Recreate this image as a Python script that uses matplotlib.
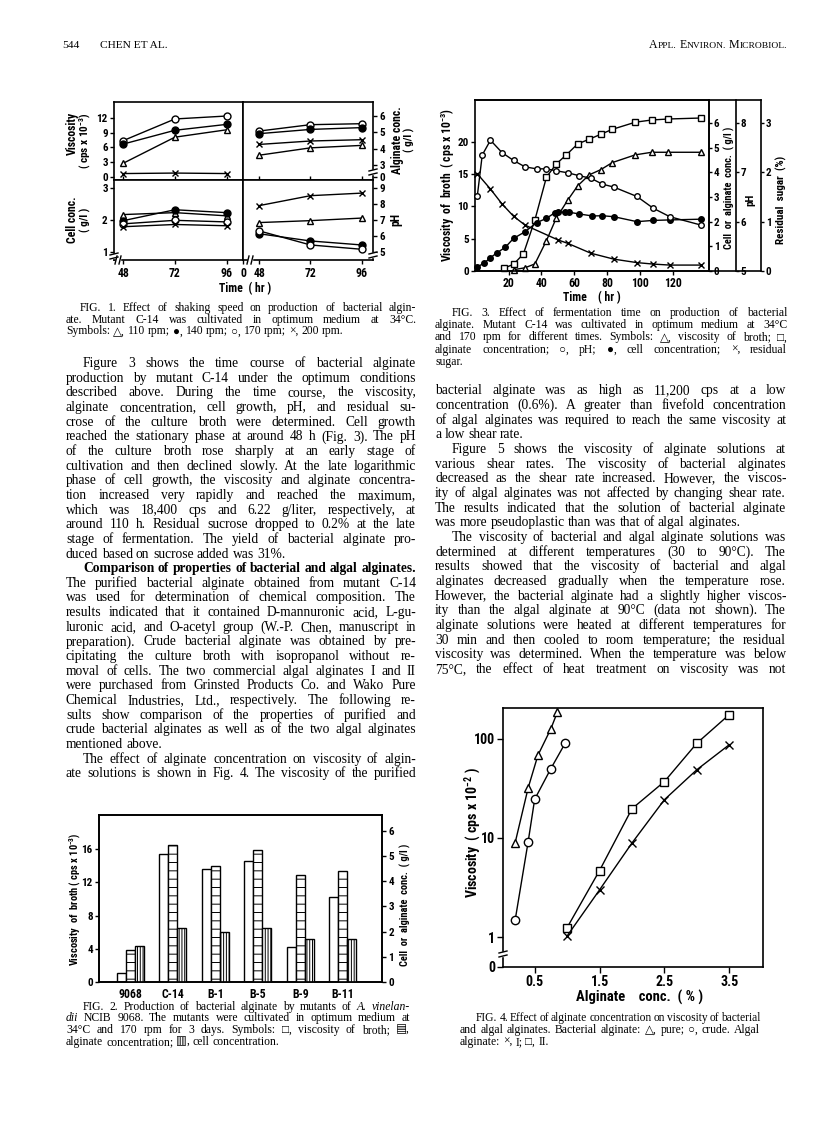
import numpy as np
import matplotlib
matplotlib.use('Agg')
import matplotlib.pyplot as plt
from matplotlib import font_manager
from matplotlib.font_manager import FontProperties
from matplotlib.lines import Line2D
from matplotlib.patches import Rectangle
from matplotlib.ticker import NullLocator

W, H = 816, 1126

# ---------------- data ----------------
# Fig. 1, effect of shaking speed (110/140/170/200 rpm)
f1_hours = [48, 72, 96]
f1_visc_110 = [2.8, 8.1, 9.6]
f1_visc_140 = [6.7, 9.5, 10.7]
f1_visc_170 = [7.4, 11.8, 12.4]
f1_visc_200 = [0.7, 0.8, 0.7]
f1_alg_110 = [3.6, 4.05, 4.2]
f1_alg_140 = [4.92, 5.18, 5.29]
f1_alg_170 = [5.08, 5.47, 5.53]
f1_alg_200 = [4.26, 4.47, 4.55]
f1_cell_110 = [2.16, 2.22, 2.12]
f1_cell_140 = [1.97, 2.31, 2.22]
f1_cell_170 = [1.87, 1.98, 1.93]
f1_cell_200 = [1.78, 1.85, 1.81]
f1_ph_110 = [6.82, 6.94, 7.1]
f1_ph_140 = [6.12, 5.67, 5.42]
f1_ph_170 = [6.3, 5.42, 5.15]
f1_ph_200 = [7.88, 8.5, 8.66]

# Fig. 2, mutants
f2_strains = ['9068', 'C-14', 'B-1', 'B-5', 'B-9', 'B-11']
f2_visc = [1.1, 15.4, 13.6, 14.6, 4.2, 10.2]
f2_alginate = [1.25, 5.45, 4.6, 5.25, 4.25, 4.4]
f2_cell = [1.42, 2.15, 2.0, 2.15, 1.7, 1.7]

# Fig. 3, fermentation time course
f3_visc_t = [23, 30, 36, 43, 49, 56, 62, 69, 76, 83, 97, 107, 117, 137]
f3_visc = [0.2, 0.5, 1.1, 4.7, 8.2, 11.0, 13.2, 14.9, 15.7, 16.8, 18.0, 18.4, 18.4, 18.4]
f3_alg_t = [17, 23, 29, 36, 43, 49, 55, 62, 69, 76, 83, 97, 107, 117, 137]
f3_alg = [0.11, 0.27, 0.69, 2.07, 3.8, 4.34, 4.7, 5.15, 5.34, 5.54, 5.74, 6.03, 6.12, 6.16, 6.2]
f3_ph_t = [1, 4, 9, 16, 23, 30, 37, 43, 49, 56, 63, 70, 77, 84, 98, 108, 118, 137]
f3_ph = [6.52, 7.35, 7.65, 7.4, 7.24, 7.11, 7.07, 7.07, 7.03, 6.99, 6.93, 6.88, 6.76, 6.70,
         6.51, 6.27, 6.1, 5.93]
f3_cell_t = [1, 5, 9, 13, 18, 23, 30, 37, 43, 48, 50, 54, 57, 63, 71, 77, 84, 98, 108, 118, 137]
f3_cell = [0.17, 0.31, 0.54, 0.74, 0.96, 1.32, 1.59, 1.96, 2.13, 2.36, 2.4, 2.38, 2.38, 2.31,
           2.23, 2.24, 2.2, 2.0, 2.05, 2.07, 2.1]
f3_sugar_t = [1, 9, 16, 23, 30, 50, 56, 70, 84, 98, 108, 118, 137]
f3_sugar = [1.97, 1.66, 1.36, 1.11, 0.93, 0.63, 0.56, 0.36, 0.24, 0.17, 0.14, 0.12, 0.12]

# Fig. 4, viscosity vs concentration
f4_pure_x = [0.2, 0.4, 0.55, 0.75, 0.85]
f4_pure_y = [9, 32, 68, 126, 185]
f4_crude_x = [0.2, 0.4, 0.5, 0.75, 0.97]
f4_crude_y = [1.5, 9.2, 24.5, 50, 90]
f4_algal_x = [1.0, 1.5, 2.0, 2.5, 3.0, 3.5]
f4_algal_1 = [1.03, 3.0, 8.9, 24.3, 48.7, 87]
f4_algal_2 = [1.25, 4.7, 19.7, 37, 90, 175]

# ---------------- page text ----------------
# '>' = paragraph indent, '|' = last line (not justified), *bold*, _italic_
left_body = [
    '>Figure 3 shows the time course of bacterial alginate',
    'production by mutant C-14 under the optimum conditions',
    'described above. During the time course, the viscosity,',
    'alginate concentration, cell growth, pH, and residual su-',
    'crose of the culture broth were determined. Cell growth',
    'reached the stationary phase at around 48 h (Fig. 3). The pH',
    'of the culture broth rose sharply at an early stage of',
    'cultivation and then declined slowly. At the late logarithmic',
    'phase of cell growth, the viscosity and alginate concentra-',
    'tion increased very rapidly and reached the maximum,',
    'which was 18,400 cps and 6.22 g/liter, respectively, at',
    'around 110 h. Residual sucrose dropped to 0.2% at the late',
    'stage of fermentation. The yield of bacterial alginate pro-',
    'duced based on sucrose added was 31%.|',
    '>*Comparison of properties of bacterial and algal alginates.*',
    'The purified bacterial alginate obtained from mutant C-14',
    'was used for determination of chemical composition. The',
    'results indicated that it contained D-mannuronic acid, L-gu-',
    'luronic acid, and O-acetyl group (W.-P. Chen, manuscript in',
    'preparation). Crude bacterial alginate was obtained by pre-',
    'cipitating the culture broth with isopropanol without re-',
    'moval of cells. The two commercial algal alginates I and II',
    'were purchased from Grinsted Products Co. and Wako Pure',
    'Chemical Industries, Ltd., respectively. The following re-',
    'sults show comparison of the properties of purified and',
    'crude bacterial alginates as well as of the two algal alginates',
    'mentioned above.|',
    '>The effect of alginate concentration on viscosity of algin-',
    'ate solutions is shown in Fig. 4. The viscosity of the purified',
]
right_body = [
    'bacterial alginate was as high as 11,200 cps at a low',
    'concentration (0.6%). A greater than fivefold concentration',
    'of algal alginates was required to reach the same viscosity at',
    'a low shear rate.|',
    '>Figure 5 shows the viscosity of alginate solutions at',
    'various shear rates. The viscosity of bacterial alginates',
    'decreased as the shear rate increased. However, the viscos-',
    'ity of algal alginates was not affected by changing shear rate.',
    'The results indicated that the solution of bacterial alginate',
    'was more pseudoplastic than was that of algal alginates.|',
    '>The viscosity of bacterial and algal alginate solutions was',
    'determined at different temperatures (30 to 90°C). The',
    'results showed that the viscosity of bacterial and algal',
    'alginates decreased gradually when the temperature rose.',
    'However, the bacterial alginate had a slightly higher viscos-',
    'ity than the algal alginate at 90°C (data not shown). The',
    'alginate solutions were heated at different temperatures for',
    '30 min and then cooled to room temperature; the residual',
    'viscosity was determined. When the temperature was below',
    '75°C, the effect of heat treatment on viscosity was not',
]
cap1 = [
    '>FIG. 1. Effect of shaking speed on production of bacterial algin-',
    'ate. Mutant C-14 was cultivated in optimum medium at 34°C.',
    'Symbols: △, 110 rpm; ●, 140 rpm; ○, 170 rpm; ×, 200 rpm.|',
]
cap2 = [
    '>FIG. 2. Production of bacterial alginate by mutants of _A. vinelan-_',
    '_dii_ NCIB 9068. The mutants were cultivated in optimum medium at',
    '34°C and 170 rpm for 3 days. Symbols: □, viscosity of broth; ▤,',
    'alginate concentration; ▥, cell concentration.|',
]
cap3 = [
    '>FIG. 3. Effect of fermentation time on production of bacterial',
    'alginate. Mutant C-14 was cultivated in optimum medium at 34°C',
    'and 170 rpm for different times. Symbols: △, viscosity of broth; □,',
    'alginate concentration; ○, pH; ●, cell concentration; ×, residual',
    'sugar.|',
]
cap4 = [
    '>FIG. 4. Effect of alginate concentration on viscosity of bacterial',
    'and algal alginates. Bacterial alginate: △, pure; ○, crude. Algal',
    'alginate: ×, I; □, II.|',
]

# ---------------- fonts / style ----------------
installed = {f.name for f in font_manager.fontManager.ttflist}
SANS = 'Liberation Sans'
for cand in ['Liberation Sans Narrow', 'DejaVu Sans Condensed', 'Roboto Condensed',
             'Open Sans Condensed', 'Arial Narrow']:
    if cand in installed:
        SANS = cand
        break
NARROW = SANS != 'Liberation Sans'
SERIF = ['Liberation Serif', 'DejaVu Serif', 'DejaVu Sans']

plt.rcParams.update({
    'font.family': [SANS, 'DejaVu Sans'],
    'font.weight': 'bold',
    'mathtext.fontset': 'custom',
    'mathtext.rm': SANS + ':bold',
    'mathtext.it': SANS + ':bold',
    'mathtext.bf': SANS + ':bold',
    'axes.linewidth': 1.2,
    'xtick.major.width': 1.0,
    'ytick.major.width': 1.0,
    'xtick.major.size': 3,
    'ytick.major.size': 3,
    'xtick.major.pad': 2,
    'ytick.major.pad': 1.5,
    'hatch.linewidth': 0.7,
})
# tick font sizes, a bit smaller when no narrow face is there
TS = 8 if NARROW else 7.5
TS4 = 10 if NARROW else 9

fig = plt.figure(figsize=(W / 100, H / 100), dpi=100)
renderer = fig.canvas.get_renderer()


def box(x0, y0, x1, y1, size=TS):
    ax = fig.add_axes([x0 / W, 1 - y1 / H, (x1 - x0) / W, (y1 - y0) / H])
    ax.tick_params(labelsize=size)
    return ax


def ftext(x, y, s, **kw):
    kw.setdefault('ha', 'center')
    kw.setdefault('va', 'center')
    return fig.text(x / W, 1 - y / H, s, **kw)


MARK = {'tri': ('^', 'white'), 'dot': ('o', 'k'), 'cir': ('o', 'white'),
        'x': ('x', 'k'), 'sq': ('s', 'white')}


def curve(ax, x, y, kind, ms=5):
    m, fc = MARK[kind]
    ax.plot(x, y, color='k', lw=1.0, marker=m, ms=ms, mfc=fc, mec='k',
            mew=1.0, zorder=3, clip_on=False)


def brk(x, y, along='v'):
    # small "=" break sign across a spine (figure pixels)
    if along == 'v':
        fig.add_artist(Rectangle(((x - 3) / W, 1 - (y + 2) / H), 6 / W, 4 / H,
                                 transform=fig.transFigure, color='white', zorder=5))
        for dy in (-2, 2):
            fig.add_artist(Line2D([(x - 4) / W, (x + 4) / W],
                                  [1 - (y + dy + 1) / H, 1 - (y + dy - 1) / H],
                                  transform=fig.transFigure, color='k', lw=1.0, zorder=6))
    else:
        fig.add_artist(Rectangle(((x - 2) / W, 1 - (y + 3) / H), 4 / W, 6 / H,
                                 transform=fig.transFigure, color='white', zorder=5))
        for dx in (-2, 2):
            fig.add_artist(Line2D([(x + dx - 1) / W, (x + dx + 1) / W],
                                  [1 - (y + 4) / H, 1 - (y - 4) / H],
                                  transform=fig.transFigure, color='k', lw=1.0, zorder=6))


# ================= Fig. 1 =================
a1 = box(114, 102, 243, 180)
b1 = box(243, 102, 373, 180)
c1 = box(114, 180, 243, 260)
d1 = box(243, 180, 373, 260)
for ax in (a1, c1):
    ax.set_xlim(43.7, 103.6)
for ax in (b1, d1):
    ax.set_xlim(40.4, 101.3)
    ax.yaxis.tick_right()
a1.set_ylim(-0.61, 15.25)
a1.set_yticks([0, 3, 6, 9, 12])
b1.set_ylim(2.08, 6.86)
b1.set_yticks([2.265, 3, 4, 5, 6], ['0', '3', '4', '5', '6'])
c1.set_ylim(0.74, 3.24)
c1.set_yticks([1, 2, 3])
d1.set_ylim(4.48, 9.48)
d1.set_yticks([5, 6, 7, 8, 9])
for ax in (a1, b1):
    ax.set_xticks(f1_hours)
    ax.tick_params(axis='x', direction='in', labelbottom=False, length=3)
c1.set_xticks(f1_hours)
d1.set_xticks([40.4] + f1_hours, ['0', '48', '72', '96'])
for ax in (c1, d1):
    ax.tick_params(axis='x', labelsize=TS + 0.5)

curve(a1, f1_hours, f1_visc_170, 'cir')
curve(a1, f1_hours, f1_visc_140, 'dot')
curve(a1, f1_hours, f1_visc_110, 'tri')
curve(a1, f1_hours, f1_visc_200, 'x')
curve(b1, f1_hours, f1_alg_170, 'cir')
curve(b1, f1_hours, f1_alg_140, 'dot')
curve(b1, f1_hours, f1_alg_200, 'x')
curve(b1, f1_hours, f1_alg_110, 'tri')
curve(c1, f1_hours, f1_cell_110, 'tri')
curve(c1, f1_hours, f1_cell_140, 'dot')
curve(c1, f1_hours, f1_cell_170, 'cir')
curve(c1, f1_hours, f1_cell_200, 'x')
curve(d1, f1_hours, f1_ph_200, 'x')
curve(d1, f1_hours, f1_ph_110, 'tri')
curve(d1, f1_hours, f1_ph_140, 'dot')
curve(d1, f1_hours, f1_ph_170, 'cir')

ftext(72, 133, 'Viscosity', rotation=90, fontsize=8.5)
ftext(85, 141, '( cps x 10$^{-3}$)', rotation=90, fontsize=8)
ftext(72, 220, 'Cell conc.', rotation=90, fontsize=8.5)
ftext(85, 220, '( g/l )', rotation=90, fontsize=8)
ftext(397, 140, 'Alginate conc.', rotation=90, fontsize=8.5)
ftext(409, 140, '( g/l )', rotation=90, fontsize=8)
ftext(396, 220, 'pH', rotation=90, fontsize=8.5)
ftext(245, 289, 'Time  ( hr )', fontsize=8.5)
brk(373, 172, 'v')
brk(373, 255, 'v')
brk(114, 256, 'v')
brk(118, 260, 'h')
brk(250, 260, 'h')

# ================= Fig. 3 =================
a3 = box(475, 100, 709, 271)
a3.set_xlim(-0.4, 141.8)
a3.set_ylim(0, 26.5)
a3.set_xticks([20, 40, 60, 80, 100, 120])
a3.set_yticks([0, 5, 10, 15, 20])
a3.tick_params(axis='x', labelsize=TS + 0.5, pad=1.5)
r3 = a3.twinx()
r3.set_ylim(0, 6.93)
r3.set_yticks(range(7))
p3 = a3.twinx()
p3.spines['right'].set_position(('axes', (736 - 475) / 234))
p3.set_ylim(5, 8.465)
p3.set_yticks([5, 6, 7, 8])
s3 = a3.twinx()
s3.spines['right'].set_position(('axes', (761 - 475) / 234))
s3.set_ylim(0, 3.465)
s3.set_yticks([0, 1, 2, 3])
for ax in (r3, p3, s3):
    ax.tick_params(labelsize=TS, length=2.5, pad=1)
    for side in ('top', 'bottom', 'left'):
        ax.spines[side].set_visible(False)
frame3 = box(475, 100, 761, 271)
frame3.set_facecolor('none')
frame3.set_xticks([])
frame3.set_yticks([])
frame3.spines['left'].set_visible(False)
frame3.spines['right'].set_visible(False)

curve(a3, f3_visc_t, f3_visc, 'tri', ms=4)
curve(r3, f3_alg_t, f3_alg, 'sq', ms=4)
curve(r3, f3_cell_t, f3_cell, 'dot', ms=4)
curve(p3, f3_ph_t, f3_ph, 'cir', ms=4)
curve(s3, f3_sugar_t, f3_sugar, 'x', ms=4)

ftext(448, 185, 'Viscosity  of  broth  ( cps x 10$^{-3}$)', rotation=90, fontsize=8.5)
ftext(729, 188, 'Cell  or  alginate  conc.  ( g/l )', rotation=90, fontsize=7.5)
ftext(750, 200, 'pH', rotation=90, fontsize=8)
ftext(781, 200, 'Residual  sugar  (%)', rotation=90, fontsize=8)
ftext(592, 298, 'Time    ( hr )', fontsize=8.5)

# ================= Fig. 2 =================
a2 = box(99, 815, 382, 982, size=TS)
xs = np.arange(len(f2_strains))
bw = 9 / 42.5
a2.bar(xs - bw, f2_visc, bw, color='white', edgecolor='k', lw=1.0)
a2.set_xlim(-0.741, 5.918)
a2.set_ylim(0, 20.1)
a2.set_yticks([0, 4, 8, 12, 16])
a2.set_xticks(xs, f2_strains)
a2.tick_params(axis='x', length=0, pad=4, labelsize=TS + 0.5)
r2 = a2.twinx()
r2.set_ylim(0, 6.62)
r2.set_yticks(range(7))
r2.tick_params(labelsize=TS)
r2.bar(xs, f2_alginate, bw, color='white', edgecolor='k', hatch='--', lw=1.0)
r2.bar(xs + bw, f2_cell, bw, color='white', edgecolor='k', hatch='||||||', lw=1.0)
ftext(75, 899, 'Viscosity  of  broth ( cps x 10$^{-3}$)', rotation=90, fontsize=7.5)
ftext(405, 905, 'Cell  or  alginate  conc.  ( g/l )', rotation=90, fontsize=7.5)

# ================= Fig. 4 =================
a4 = box(503, 708, 763, 967, size=TS4)
a4.set_yscale('log')
a4.set_ylim(0.502, 203.8)
a4.set_yticks([0.502, 1, 10, 100], ['0', '1', '10', '100'])
a4.yaxis.set_minor_locator(NullLocator())
a4.set_xlim(0.012, 4.02)
a4.set_xticks([0.5, 1.5, 2.5, 3.5])
a4.tick_params(length=4)
curve(a4, f4_pure_x, f4_pure_y, 'tri', ms=6)
curve(a4, f4_crude_x, f4_crude_y, 'cir', ms=6)
curve(a4, f4_algal_x, f4_algal_2, 'sq', ms=6)
curve(a4, f4_algal_x, f4_algal_1, 'x', ms=6)
ftext(473, 833, 'Viscosity  ( cps x 10$^{-2}$ )', rotation=90, fontsize=10)
ftext(640, 997, 'Alginate    conc.  ( % )', fontsize=10.5)
brk(503, 954, 'v')


# ================= running text =================
def fprop(size, weight='normal', style='normal'):
    return FontProperties(family=SERIF, size=size, weight=weight, style=style)


def width(s, fp):
    return renderer.get_text_width_height_descent(s, fp, ismath=False)[0]


def space(size):
    fp = fprop(size)
    return width('n n', fp) - width('nn', fp)


def parse(line):
    out, bold, ital = [], False, False
    for tok in line.split():
        if tok.startswith('*'):
            bold, tok = True, tok[1:]
        if tok.startswith('_'):
            ital, tok = True, tok[1:]
        eb = tok.endswith('*')
        if eb:
            tok = tok[:-1]
        ei = tok.endswith('_')
        if ei:
            tok = tok[:-1]
        out.append((tok, 'bold' if bold else 'normal', 'italic' if ital else 'normal'))
        if eb:
            bold = False
        if ei:
            ital = False
    return out


def prepared(lines):
    return [(raw.startswith('>'), raw.endswith('|'), parse(raw.strip('>|'))) for raw in lines]


def fit_size(blocks, cap):
    best = cap
    for lines, x0, x1, indent in blocks:
        for ind, last, words in prepared(lines):
            if last:
                continue
            nat = sum(width(w, fprop(10, wt, st)) for w, wt, st in words)
            nat += space(10) * (len(words) - 1)
            avail = x1 - x0 - (indent if ind else 0)
            best = min(best, avail / nat * 10)
    return best


def set_block(lines, x0, x1, y_first, lead, indent, size):
    for i, (ind, last, words) in enumerate(prepared(lines)):
        left = x0 + (indent if ind else 0)
        s = size
        # shrink a line only if it does not fit at the block size
        while True:
            fps = [fprop(s, wt, st) for _, wt, st in words]
            ws = [width(w, fp) for (w, _, _), fp in zip(words, fps)]
            if sum(ws) + 0.6 * space(s) * (len(words) - 1) <= x1 - left or s < 5:
                break
            s -= 0.1
        if last or len(words) < 2:
            gap = space(s)
        else:
            gap = (x1 - left - sum(ws)) / (len(words) - 1)
        x = left
        y = y_first + i * lead + 0.28 * size * 100 / 72
        for (w, _, _), fp, wd in zip(words, fps, ws):
            fig.text(x / W, 1 - y / H, w, fontproperties=fp, ha='left', va='baseline')
            x += wd + gap


LEFT = (66, 416)
RIGHT = (435, 786)
body_size = fit_size([(left_body, LEFT[0], LEFT[1], 17), (right_body, RIGHT[0], RIGHT[1], 17)], 10.2)
set_block(left_body, LEFT[0], LEFT[1], 363.3, 14.65, 17, body_size)
set_block(right_body, RIGHT[0], RIGHT[1], 390.7, 14.65, 17, body_size)

CAP = 8.4
set_block(cap1, 66, 416, 307.7, 11.7, 14, CAP)
set_block(cap3, 435, 787, 312.7, 12.2, 17, CAP)
set_block(cap2, 66, 410, 1006.5, 11.7, 17, CAP)
set_block(cap4, 460, 760, 1017.5, 12.0, 16, CAP)

# running head
head_fp = fprop(8.2)
fig.text(62 / W, 1 - 48.5 / H, '544', fontproperties=head_fp, ha='left', va='baseline')
fig.text(100 / W, 1 - 48.5 / H, 'CHEN ET AL.', fontproperties=head_fp, ha='left', va='baseline')
big, small = fprop(8.6), fprop(6.8)
pieces = []
for word in ['APPL.', 'ENVIRON.', 'MICROBIOL.']:
    pieces += [(word[0], big), (word[1:], small), (' ', big)]
pieces = pieces[:-1]
total = sum(width(s, fp) if s != ' ' else space(8.6) for s, fp in pieces)
x = 787 - total
for s, fp in pieces:
    if s == ' ':
        x += space(8.6)
        continue
    fig.text(x / W, 1 - 48.5 / H, s, fontproperties=fp, ha='left', va='baseline')
    x += width(s, fp)

fig.savefig('out.png', dpi=100, facecolor='white')
